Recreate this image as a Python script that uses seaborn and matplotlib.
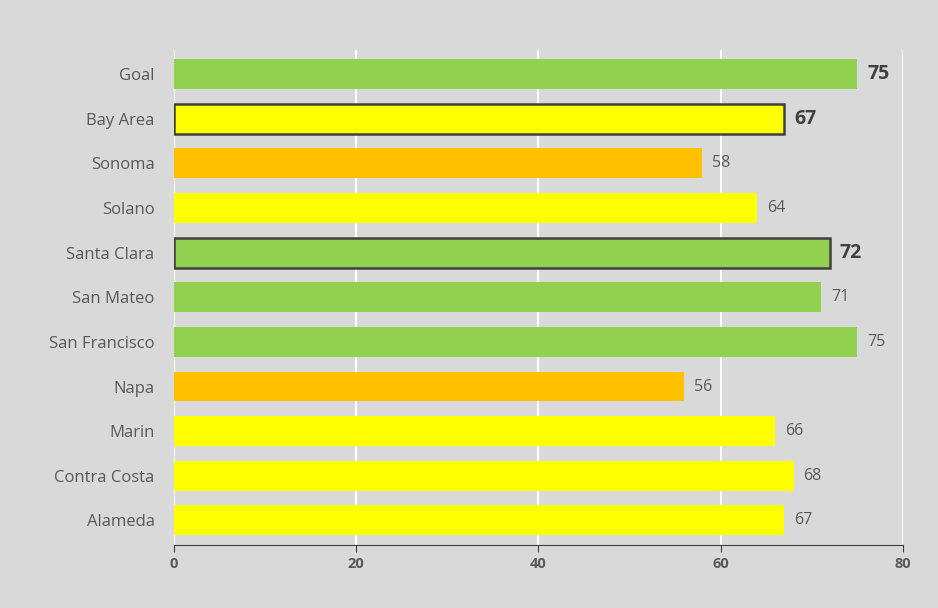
import matplotlib
matplotlib.use("Agg")
from matplotlib import pyplot as plt
import pandas as pd
import seaborn as sns

# Chart data
regions = ["Goal", "Bay Area", "Sonoma", "Solano", "Santa Clara", "San Mateo",
           "San Francisco", "Napa", "Marin", "Contra Costa", "Alameda"]
scores = [75, 67, 58, 64, 72, 71, 75, 56, 66, 68, 67]
bar_colors = ["#92d050", "#ffff00", "#ffc000", "#ffff00", "#92d050", "#92d050",
              "#92d050", "#ffc000", "#ffff00", "#ffff00", "#ffff00"]
highlighted = ["Goal", "Bay Area", "Santa Clara"]
outlined = ["Bay Area", "Santa Clara"]


def main():
    sns.set_style("white")
    plt.rcParams["font.family"] = ["Open Sans", "DejaVu Sans"]
    bg = "#d9d9d9"
    text_col = "#595959"

    df = pd.DataFrame({"Region": regions, "Score": scores})
    fig = plt.figure(figsize=(9.38, 6.08), dpi=100, facecolor=bg)
    ax = fig.add_axes([0.1855, 0.1036, 0.777, 0.8144], facecolor=bg)

    sns.barplot(data=df, x="Score", y="Region", hue="Region", palette=bar_colors,
                saturation=1, legend=False, width=0.67, ax=ax, zorder=3)

    for patch, name in zip(ax.patches, regions):
        if name in outlined:
            patch.set_edgecolor("#404040")
            patch.set_linewidth(1.8)
        else:
            patch.set_linewidth(0)

    for i, (name, val) in enumerate(zip(regions, scores)):
        bold = name in highlighted
        ax.text(val + 1.1, i, str(val), va="center", ha="left",
                fontsize=14 if bold else 11.5,
                fontweight="bold" if bold else "normal",
                color="#404040" if bold else text_col)

    ax.set_xlim(0, 80)
    ax.set_ylim(10.55, -0.54)
    ax.set_xticks([0, 20, 40, 60, 80])
    ax.set_xlabel("")
    ax.set_ylabel("")
    ax.grid(axis="x", color="white", linewidth=1.5, zorder=0)
    for side in ["top", "right", "left"]:
        ax.spines[side].set_visible(False)
    ax.spines["bottom"].set_color("#404040")
    ax.tick_params(axis="x", direction="out", length=5, color="#404040",
                   labelsize=10.5, labelcolor=text_col, bottom=True)
    for lbl in ax.get_xticklabels():
        lbl.set_fontweight("bold")
    ax.tick_params(axis="y", length=0, labelsize=12, labelcolor=text_col, pad=14)

    fig.savefig("out.png", dpi=100, facecolor=bg)


if __name__ == "__main__":
    main()
